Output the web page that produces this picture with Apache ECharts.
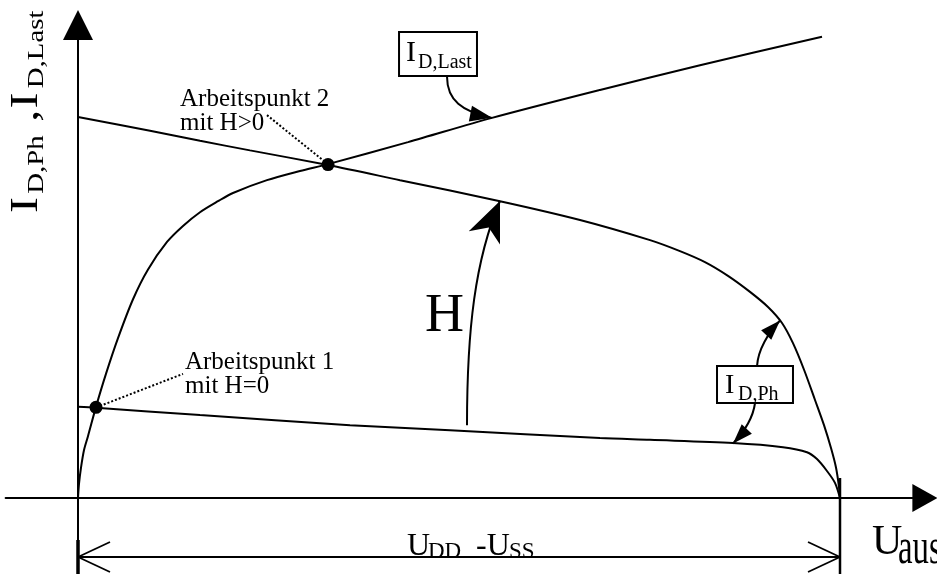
<!DOCTYPE html>
<html>
<head>
<meta charset="utf-8">
<script src="https://cdn.jsdelivr.net/npm/echarts@6/dist/echarts.min.js"></script>
<style>
  html, body { margin: 0; padding: 0; background: #fff; }
  #main { width: 937px; height: 574px; }
</style>
</head>
<body>
<div id="main"></div>
<script>
// Operating points of a photodiode pixel: photo current I_D,Ph (dark and lit)
// against the load current I_D,Last, plotted over the output voltage U_aus.
// x: output voltage in tenths of U_DD - U_SS (0 .. 10), y: current, arbitrary units.

// Load current I_D,Last
const loadCurve = [
  [0, 0], [0.013, 0.31], [0.039, 0.66], [0.079, 1.05], [0.131, 1.35], [0.236, 1.99],
  [0.367, 2.71], [0.525, 3.49], [0.722, 4.34], [0.919, 4.99], [1.168, 5.59],
  [1.378, 5.94], [1.601, 6.24], [1.837, 6.48], [2.034, 6.66], [2.480, 6.94],
  [2.913, 7.14], [3.281, 7.29], [4.331, 7.77], [5.433, 8.30], [6.850, 8.91],
  [8.163, 9.45], [9.764, 10.07]
];

// Photo current with illumination (H > 0)
const photoLit = [
  [0, 8.32], [0.945, 8.02], [1.601, 7.80], [2.257, 7.59], [3.281, 7.27],
  [4.226, 6.94], [5.538, 6.48], [6.588, 6.07], [7.507, 5.63], [7.900, 5.39],
  [8.228, 5.15], [8.530, 4.85], [8.819, 4.50], [9.055, 4.17], [9.239, 3.82],
  [9.383, 3.38], [9.528, 2.80], [9.672, 2.14], [9.790, 1.59], [9.882, 1.09],
  [9.948, 0.66], [9.987, 0.24], [10, 0]
];

// Photo current without illumination (H = 0)
const photoDark = [
  [0, 1.99], [0.236, 1.97], [1.601, 1.81], [3.570, 1.59], [4.882, 1.48],
  [6.850, 1.31], [7.507, 1.27], [8.596, 1.20], [9.252, 1.11], [9.567, 1.00],
  [9.698, 0.85], [9.829, 0.59], [9.934, 0.33], [10, 0]
];

// Intersections of the photo currents with the load current
const workPoints = [[0.236, 1.98], [3.281, 7.28]];
const workLabels = [['Arbeitspunkt 1', 'mit H=0'], ['Arbeitspunkt 2', 'mit H>0']];

// Axis ranges
const X_RANGE = [-0.95, 10.95];
const Y_RANGE = [-1.66, 10];

// ---- layout ----
const W = 937, H = 574;
const ORIGIN = [78, 498];
const X_PX = 76.2, Y_PX = 45.8;
const gridLeft = ORIGIN[0] + X_RANGE[0] * X_PX;
const gridRight = W - (ORIGIN[0] + X_RANGE[1] * X_PX);
const gridTop = ORIGIN[1] - Y_RANGE[1] * Y_PX;
const gridBottom = H - (ORIGIN[1] - Y_RANGE[0] * Y_PX);

const SERIF = '"Liberation Serif", "Times New Roman", Times, serif';
const INK = '#000';

const chart = echarts.init(document.getElementById('main'), null, { renderer: 'canvas' });

function curve(name, data) {
  return {
    name, type: 'line', data, smooth: 0.3,
    showSymbol: false, symbol: 'none', clip: false, silent: true,
    lineStyle: { color: INK, width: 2 }
  };
}

chart.setOption({
  animation: false,
  backgroundColor: '#fff',
  grid: { left: gridLeft, right: gridRight, top: gridTop, bottom: gridBottom, containLabel: false, outerBoundsMode: 'none' },
  xAxis: {
    type: 'value', min: X_RANGE[0], max: X_RANGE[1],
    axisLine: { onZero: true, lineStyle: { color: INK, width: 2 },
      symbol: ['none', 'triangle'], symbolSize: [28, 25], symbolOffset: [0, 12.5] },
    axisTick: { show: false }, axisLabel: { show: false }, splitLine: { show: false }
  },
  yAxis: {
    type: 'value', min: Y_RANGE[0], max: Y_RANGE[1],
    axisLine: { onZero: true, lineStyle: { color: INK, width: 2 },
      symbol: ['none', 'triangle'], symbolSize: [30, 30], symbolOffset: [0, 15] },
    axisTick: { show: false }, axisLabel: { show: false }, splitLine: { show: false }
  },
  series: [
    curve('I_D,Last', loadCurve),
    curve('I_D,Ph (H>0)', photoLit),
    curve('I_D,Ph (H=0)', photoDark),
    {
      name: 'Arbeitspunkte', type: 'scatter', data: workPoints, symbolSize: 13,
      itemStyle: { color: INK, opacity: 1 }, silent: true, z: 5
    }
  ]
});

// ---- annotations, anchored in data coordinates ----
const notes = {
  leaders: [[[0.289, 2.01], [1.378, 2.71]], [[2.480, 8.36], [3.241, 7.34]]],
  workText: [[1.404, 2.77], [1.339, 8.52]],
  hArrow: [[5.105, 1.59], [5.105, 3.67], [5.210, 5.20], [5.538, 6.485]],
  hText: [4.554, 3.56],
  lastBox: [[4.213, 10.175], [5.236, 9.214]],
  lastArrow: [[4.843, 9.19], [4.843, 8.69], [5.039, 8.43], [5.433, 8.30]],
  phBox: [[8.386, 2.882], [9.383, 2.074]],
  phArrowUp: [[8.911, 2.88], [8.924, 3.23], [9.055, 3.60], [9.213, 3.875]],
  phArrowDown: [[8.885, 2.074], [8.858, 1.747], [8.727, 1.419], [8.596, 1.19]]
};

const P = (pt) => chart.convertToPixel({ gridIndex: 0 }, pt);

function text(x, baseline, str, size, o) {
  o = o || {};
  const sx = o.scaleX || 1, sy = o.scaleY || 1;
  return {
    type: 'text', x, y: baseline - 0.34 * size * sy, scaleX: sx, scaleY: sy, z: 21, silent: true,
    style: { text: str, fontSize: size, fontFamily: SERIF, fill: INK, align: 'left', verticalAlign: 'middle' }
  };
}
function seg(a, b, width, dash) {
  return {
    type: 'line', z: 10, silent: true,
    shape: { x1: a[0], y1: a[1], x2: b[0], y2: b[1] },
    style: { stroke: INK, lineWidth: width || 2, lineDash: dash || null, fill: null }
  };
}
function arrowHead(tip, from, len, half, notch) {
  const dx = tip[0] - from[0], dy = tip[1] - from[1];
  const d = Math.hypot(dx, dy), ux = dx / d, uy = dy / d;
  const bx = tip[0] - ux * len, by = tip[1] - uy * len;
  const nx = -uy, ny = ux;
  const pts = [tip, [bx + nx * half, by + ny * half]];
  if (notch) pts.push([tip[0] - ux * len * notch, tip[1] - uy * len * notch]);
  pts.push([bx - nx * half, by - ny * half]);
  return { type: 'polygon', z: 11, silent: true, shape: { points: pts }, style: { fill: INK } };
}
function curvedArrow(ctrl, len, half, notch) {
  const p = ctrl.map(P);
  return [
    {
      type: 'bezierCurve', z: 10, silent: true,
      shape: { x1: p[0][0], y1: p[0][1], cpx1: p[1][0], cpy1: p[1][1], cpx2: p[2][0], cpy2: p[2][1], x2: p[3][0], y2: p[3][1] },
      style: { stroke: INK, lineWidth: 2, fill: null }
    },
    arrowHead(p[3], p[2], len, half, notch)
  ];
}
function box(corners) {
  const a = P(corners[0]), b = P(corners[1]);
  return {
    rect: { type: 'rect', z: 20, silent: true,
      shape: { x: a[0], y: a[1], width: b[0] - a[0], height: b[1] - a[1] },
      style: { fill: '#fff', stroke: INK, lineWidth: 2 } },
    x: a[0], y: a[1]
  };
}

const g = [];
const o = P([0, 0]);
const end = P([10, 0]);

// working point labels with dotted leaders
notes.leaders.forEach((l) => g.push(seg(P(l[0]), P(l[1]), 2, [2, 2])));
notes.workText.forEach((t, i) => {
  const p = P(t);
  g.push(text(p[0], p[1], workLabels[i][0], 25));
  g.push(text(p[0], p[1] + 24, workLabels[i][1], 25));
});

// illumination H
g.push(...curvedArrow(notes.hArrow, 40, 17, 0.72));
const hp = P(notes.hText);
g.push(text(hp[0], hp[1], 'H', 54));

// boxed curve names
const lb = box(notes.lastBox);
g.push(lb.rect, text(lb.x + 7, lb.y + 31, 'I', 30), text(lb.x + 19, lb.y + 38, 'D,Last', 20));
g.push(...curvedArrow(notes.lastArrow, 22, 8));
const pb = box(notes.phBox);
g.push(pb.rect, text(pb.x + 8, pb.y + 29, 'I', 28), text(pb.x + 21, pb.y + 36, 'D,Ph', 20));
g.push(...curvedArrow(notes.phArrowUp, 20, 7));
g.push(...curvedArrow(notes.phArrowDown, 20, 7));

// dimension U_DD - U_SS below the voltage axis
const dimY = o[1] + 59;
g.push(seg([o[0], o[1] + 42], [o[0], H], 3.5));
g.push(seg([end[0], o[1] - 20], [end[0], H], 2.5));
g.push(seg([o[0], dimY], [end[0], dimY], 2));
g.push(seg([o[0], dimY], [o[0] + 32, dimY - 15], 1.8), seg([o[0], dimY], [o[0] + 32, dimY + 15], 1.8));
g.push(seg([end[0], dimY], [end[0] - 32, dimY - 15], 1.8), seg([end[0], dimY], [end[0] - 32, dimY + 15], 1.8));
const cx = (o[0] + end[0]) / 2;
g.push(text(cx - 52, dimY, 'U', 32), text(cx - 31, dimY + 3, 'DD', 23),
       text(cx + 17, dimY, '-U', 32), text(cx + 50, dimY + 3, 'SS', 23));

// axis names
g.push(text(end[0] + 32, o[1] + 59, 'U', 42));
g.push(text(end[0] + 58, o[1] + 69, 'aus', 40, { scaleX: 0.82, scaleY: 1.25 }));

const yName = (x, base, str, size) => ({
  type: 'text', x, y: base - 0.34 * size, silent: true,
  style: { text: str, fontSize: size, fontFamily: SERIF, fill: INK, align: 'left', verticalAlign: 'middle' }
});
g.push({
  type: 'group', x: o[0] - 38, y: o[1] - 285, rotation: Math.PI / 2, scaleX: 1.2, z: 21, silent: true,
  children: [
    yName(0, 0, 'I', 40),
    yName(16, 5, 'D,Ph', 24),
    yName(76, 0, ',', 40),
    yName(87, 0, 'I', 40),
    yName(104, 5, 'D,Last', 24)
  ]
});

chart.setOption({ graphic: { elements: g } });
</script>
</body>
</html>
